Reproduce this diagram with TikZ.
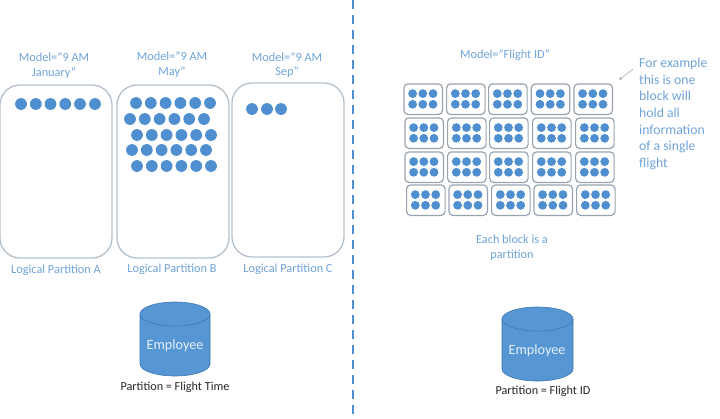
\documentclass[tikz,border=0pt]{standalone}
\usepackage{fontspec}
\setmainfont{Carlito}
\usetikzlibrary{arrows.meta}
\definecolor{dotblue}{HTML}{4F8FD0}
\definecolor{cylblue}{HTML}{5596D3}
\definecolor{cyledge}{HTML}{3F78B0}
\definecolor{txtblue}{HTML}{6FA3D8}
\definecolor{frame}{HTML}{B4C0CC}
\tikzset{
  lbl/.style={text=txtblue,font=\fontsize{12.3}{14.5}\selectfont,align=center,inner sep=0pt},
  blk/.style={text=black!85,font=\fontsize{12.2}{14}\selectfont,inner sep=0pt},
  bigdot/.style={circle,fill=dotblue,minimum size=11.8pt,inner sep=0pt},
  smalldot/.style={circle,fill=dotblue,minimum size=8.8pt,inner sep=0pt},
  partbox/.style={draw=frame,line width=1.3pt,rounded corners=20pt,minimum width=112pt,inner sep=0pt},
  blockbox/.style={draw=frame!85!black,line width=1.2pt,rounded corners=4pt,minimum width=38.5pt,minimum height=30.5pt,inner sep=0pt,fill=white},
  cylface/.style={fill=cylblue,draw=cyledge,line width=.6pt},
  cyltxt/.style={text=white!85!cylblue,font=\fontsize{14.2}{16}\selectfont,inner sep=0pt},
  divider/.style={draw=dotblue,line width=1.2pt,dash pattern=on 9pt off 6pt},
  pointer/.style={draw=gray!70,line width=.6pt,-{Latex[length=3pt,width=3pt]}}
}
\newcommand{\mycyl}[4]{% left x, right x, top y, bottom y
  \path[cylface] (#1,#3+12) -- (#1,#4-12) arc[x radius={(#2-#1)/2},y radius=12,start angle=180,end angle=0]
     -- (#2,#3+12) -- cycle;
  \path[cylface] ({(#1+#2)/2},#3+12) ellipse[x radius={(#2-#1)/2},y radius=12];
}
\begin{document}
\begin{tikzpicture}[x=1pt,y=-1pt]
\useasboundingbox (0,0) rectangle (720,418);
% divider
\coordinate (divtop) at (353,0);
\coordinate (divbot) at (353,418);
\draw[divider] (divtop) -- (divbot);
% partition boxes
\node[partbox,minimum height=173pt] (boxA) at (56,171.5) {};
\node[partbox,minimum height=173pt] (boxB) at (173,171.5) {};
\node[partbox,minimum height=174pt] (boxC) at (288,170) {};
% left labels
\node[lbl] (mA) at (54,65.5) {Model=”9 AM\\January”};
\node[lbl] (mB) at (172,64.5) {Model=”9 AM\\May”};
\node[lbl] (mC) at (287,65) {Model=”9 AM\\Sep”};
\node[lbl] (lA) at (56,270) {Logical Partition A};
\node[lbl] (lB) at (172,269) {Logical Partition B};
\node[lbl] (lC) at (288,269) {Logical Partition C};
% dots
\foreach \i [count=\n] in {21,35.8,50.5,65.3,80,95} \node[bigdot] (a\n) at (\i,104) {};
\foreach \yy/\xs [count=\r] in {103/136,119/130,135/137,150/132,166/137}
  \foreach \k in {0,...,5} \node[bigdot] (b\r\k) at ({\xs+\k*14.8},\yy) {};
\foreach \i [count=\n] in {252,267,281} \node[bigdot] (c\n) at (\i,109) {};
% blocks
\foreach \yy/\xlist [count=\r] in {
   83.3/{403.3,446,488,530.7,573.3},
   117.3/{404.3,447,489,532,575},
   151.3/{404.3,447,489,532,575},
   184.3/{406,448.3,491,533.3,576}}{
  \foreach \xx [count=\c] in \xlist {
    \node[blockbox,anchor=north west] (blk\r\c) at (\xx,\yy) {};
    \foreach \dx in {9.3,19.5,29.7}
      \foreach \dy in {10.3,21}
        \node[smalldot] at ({\xx+\dx},{\yy+\dy}) {};
  }
}
% right labels
\node[lbl] (mF) at (505,55) {Model=”Flight ID”};
\node[lbl,font=\fontsize{13.7}{16.6}\selectfont,align=left,anchor=north west] (note) at (639,58)
  {For example\\this is one\\block will\\hold all\\information\\of a single\\flight};
\coordinate (pfrom) at (633,69);
\coordinate (pto) at (619,80);
\draw[pointer] (pfrom) -- (pto);
\node[lbl] (each) at (512,247.5) {Each block is a\\partition};
% cylinders
\mycyl{140}{210}{302}{376}
\node[cyltxt] (emp1) at (175,346) {Employee};
\node[blk] (p1) at (175,387) {Partition = Flight Time};
\mycyl{502}{573}{307}{381}
\node[cyltxt] (emp2) at (537,351) {Employee};
\node[blk] (p2) at (543,391) {Partition = Flight ID};
\end{tikzpicture}
\end{document}
